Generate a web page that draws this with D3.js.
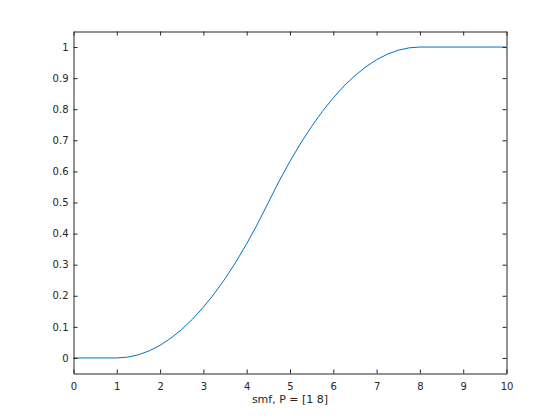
<!DOCTYPE html>
<html>
<head>
<meta charset="utf-8">
<script src="https://cdn.jsdelivr.net/npm/d3@7"></script>
<style>
  html, body { margin: 0; padding: 0; background: #fff; }
  svg { display: block; }
  text { font-family: "DejaVu Sans", "Liberation Sans", sans-serif; }
</style>
</head>
<body>
<svg id="chart" width="560" height="420"></svg>
<script>
// Data (S-shaped membership curve, P = [1 8])
const xValues = [0, 0.5, 1, 1.25, 1.5, 1.75, 2, 2.25, 2.5, 2.75, 3, 3.25, 3.5, 3.75, 4, 4.25, 4.5,
                 4.75, 5, 5.25, 5.5, 5.75, 6, 6.25, 6.5, 6.75, 7, 7.25, 7.5, 7.75, 8, 9, 10];
const yValues = [0, 0, 0, 0.0026, 0.0102, 0.0230, 0.0408, 0.0638, 0.0918, 0.125, 0.1633, 0.2066, 0.2551, 0.3087, 0.3673, 0.4311, 0.5,
                 0.5689, 0.6327, 0.6913, 0.7449, 0.7934, 0.8367, 0.875, 0.9082, 0.9362, 0.9592, 0.9770, 0.9898, 0.9974, 1, 1, 1];
const xTicks = [0, 1, 2, 3, 4, 5, 6, 7, 8, 9, 10];
const yTicks = [0, 0.1, 0.2, 0.3, 0.4, 0.5, 0.6, 0.7, 0.8, 0.9, 1];
const xLabel = "smf, P = [1 8]";

const svg = d3.select("#chart");
const mLeft = 73.5, mRight = 506.5, mTop = 31.5, mBottom = 373.5;
const x = d3.scaleLinear().domain([0, 10]).range([mLeft, mRight]);
const y = d3.scaleLinear().domain([-0.05, 1.05]).range([mBottom, mTop]);
const axisColor = "#262626";
const tickLen = 4;

// line
const line = d3.line().x((d, i) => x(xValues[i])).y(d => y(d));
svg.append("path")
  .datum(yValues)
  .attr("d", line)
  .attr("fill", "none")
  .attr("stroke", "#0072BD")
  .attr("stroke-width", 1);

function styleAxis(g) {
  g.select(".domain").attr("stroke", axisColor).attr("stroke-width", 1);
  g.selectAll(".tick line").attr("stroke", axisColor);
  g.selectAll(".tick text").attr("fill", axisColor).attr("font-size", 10)
    .attr("font-family", "'DejaVu Sans', sans-serif");
}

// bottom axis
svg.append("g").attr("transform", `translate(0,${mBottom})`)
  .call(d3.axisBottom(x).tickValues(xTicks).tickSize(-tickLen).tickSizeOuter(0).tickPadding(9).tickFormat(d3.format("")))
  .call(styleAxis);
// top axis (no labels)
svg.append("g").attr("transform", `translate(0,${mTop})`)
  .call(d3.axisTop(x).tickValues(xTicks).tickSize(-tickLen).tickSizeOuter(0).tickFormat(""))
  .call(styleAxis);
// left axis
svg.append("g").attr("transform", `translate(${mLeft},0)`)
  .call(d3.axisLeft(y).tickValues(yTicks).tickSize(-tickLen).tickSizeOuter(0).tickPadding(5).tickFormat(d3.format("")))
  .call(styleAxis);
// right axis (no labels)
svg.append("g").attr("transform", `translate(${mRight},0)`)
  .call(d3.axisRight(y).tickValues(yTicks).tickSize(-tickLen).tickSizeOuter(0).tickFormat(""))
  .call(styleAxis);

// x label
svg.append("text")
  .attr("x", (mLeft + mRight) / 2)
  .attr("y", 403)
  .attr("text-anchor", "middle")
  .attr("font-size", 11)
  .attr("fill", axisColor)
  .text(xLabel);
</script>
</body>
</html>
